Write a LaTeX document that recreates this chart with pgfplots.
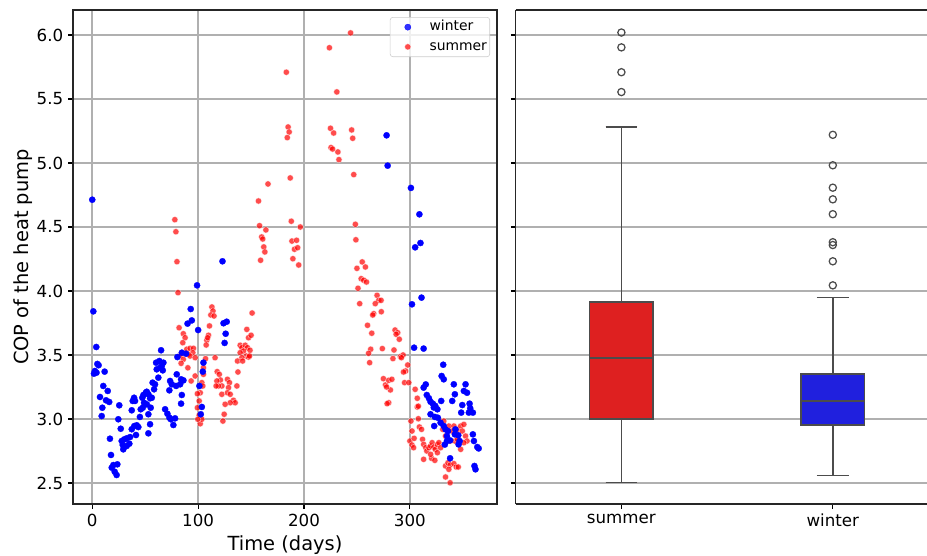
\documentclass[border=0pt]{standalone}
\usepackage{pgfplots}
\pgfplotsset{compat=1.18}
\usepgfplotslibrary{statistics}
\usepackage{fontspec}
\setmainfont{DejaVu Sans}
\definecolor{gridc}{HTML}{B0B0B0}
\definecolor{boxline}{HTML}{4C4C4C}
\definecolor{sumfill}{HTML}{DE2020}
\definecolor{winfill}{HTML}{2020DE}
\begin{document}
\begin{tikzpicture}
\useasboundingbox (0,0) rectangle (667.44pt,399.6pt);
\begin{axis}[
  at={(52.56pt,36.72pt)}, anchor=south west,
  width=305.28pt, height=355.68pt, scale only axis,
  xmin=-18.2, xmax=382.3, ymin=2.336, ymax=6.195,
  xtick={0,100,200,300},
  ytick={2.5,3,3.5,4,4.5,5,5.5,6},
  /pgf/number format/assume math mode=true,
  yticklabel style={/pgf/number format/fixed,/pgf/number format/fixed zerofill,/pgf/number format/precision=1},
  tick label style={font=\fontsize{12}{14}\selectfont},
  tick align=outside, major tick length=3.5pt,
  tick style={black, line width=0.8pt},
  xtick pos=left, ytick pos=left,
  axis line style={black!85, line width=1pt},
  grid=major, major grid style={gridc, line width=1.2pt},
  xlabel={Time (days)}, ylabel={COP of the heat pump},
  label style={font=\fontsize{14}{16}\selectfont},
  ylabel shift=-3.5pt,
  reverse legend,
  legend cell align=left,
  legend style={at={(rel axis cs:0.9835,0.9858)}, anchor=north east,
    draw=black!20, fill=white, fill opacity=0.8, text opacity=1,
    rounded corners=2pt, inner xsep=0pt, inner ysep=0pt, row sep=0pt,
    font=\fontsize{10}{12}\selectfont,
    nodes={text height=7.6pt, text depth=2.6pt}},
  legend image code/.code={\path (-12.5pt,0pt) (13.5pt,0pt); \draw[#1] plot coordinates {(0pt,0pt)};},
]
% summer
\addplot[only marks, mark=*, mark size=2.25pt, mark options={fill=red, draw=white, line width=0.3pt}, opacity=0.7] coordinates {
(78,4.557)(79,4.463)(80,4.229)(81,3.987)(183.3,5.709)(185,5.281)(186,5.242)(184.2,5.198)(187,4.883)(166,4.836)
(157,4.703)(188,4.545)(158,4.51)(164,4.477)(160,4.422)(161,4.406)(162,4.344)(163,4.305)(159,4.24)(188.6,4.39)
(193,4.396)(191,4.326)(194,4.338)(189.5,4.252)(195,4.203)(196.5,4.5)(244,6.016)(224,5.90)(231,5.555)(225,5.271)
(228,5.234)(245,5.258)(246,5.193)(225.5,5.12)(227,5.109)(232,5.086)(233,5.026)(247,4.909)(248.5,4.521)(249,4.40)
(255,4.227)(258,4.1875)(250,4.177)(254,4.096)(256.4,4.084)(259,4.07)(251,4.021)(252.6,3.901)(269,3.966)(270.6,3.927)
(272.8,3.927)(267.3,3.901)(265.8,3.823)(264.9,3.8125)(273,3.838)(260,3.732)(264,3.67)(286,3.695)(288.5,3.674)(287,3.662)
(290,3.623)(263,3.545)(261,3.513)(262,3.44)(274,3.55)(285,3.539)(284,3.472)(291,3.487)(293.6,3.50)(292,3.479)
(298,3.422)(296,3.375)(294,3.367)(275,3.315)(277,3.266)(280,3.302)(283,3.31)(281.6,3.227)(278,3.25)(295,3.284)
(299,3.284)(305,3.232)(307,3.162)(307,3.094)(280,3.127)(278.5,3.12)(308,3.10)(301,2.984)(302,2.906)(300,2.828)
(302,2.797)(303.5,2.776)(308,3.002)(309,2.9375)(311,2.919)(304,2.849)(312,2.841)(313,2.802)(315,2.776)(316,2.75)
(318,2.776)(319.6,2.789)(321,2.815)(322.6,2.781)(324,2.763)(326,2.80)(327.4,2.815)(329,2.776)(313,2.685)(320.5,2.693)
(323.6,2.677)(319.6,2.724)(326,2.737)(332,2.984)(331,2.919)(333.7,2.867)(336.8,2.945)(341.6,2.945)(344.8,2.919)(348,2.945)
(351,2.958)(349.5,2.906)(352.6,2.867)(354,2.828)(351,2.815)(346.2,2.80)(348,2.763)(342.5,2.828)(344.8,2.841)(338,2.828)
(340,2.906)(343,2.88)(333.7,2.633)(336,2.658)(338,2.64)(341.6,2.651)(343.8,2.625)(345.7,2.625)(336.8,2.607)(333.7,2.547)
(338,2.502)
(113,3.875)(114,3.844)(112,3.8125)(115,3.805)(110.7,3.727)(109.8,3.654)(108.2,3.615)(107.6,3.578)(109,3.635)(151,3.828)
(82,3.713)(86,3.666)(87.7,3.635)(85.5,3.596)(89.3,3.545)(92.4,3.552)(95.6,3.552)(95,3.518)(90.8,3.505)(84.6,3.51)
(83,3.492)(86,3.466)(92.4,3.492)(97.2,3.479)(90.3,3.40)(83.9,3.435)(97.2,3.336)(93.4,3.297)(107,3.471)(116,3.479)
(118,3.37)(120,3.349)(121,3.305)(117.7,3.297)(122.4,3.258)(119.2,3.258)(117,3.258)(105,3.349)(103.5,3.284)(104.4,3.258)
(102,3.205)(99.3,3.1975)(101,3.141)(99.3,3.088)(101,3.029)(102,2.963)(127.7,3.31)(129.6,3.284)(128.7,3.245)(136.6,3.258)
(137.6,3.367)(122.4,3.193)(127.7,3.205)(130.3,3.193)(133.4,3.146)(135,3.127)(130.3,3.127)(125.5,3.115)(124.6,3.037)(123.4,2.984)
(139.7,3.576)(141.3,3.557)(144.5,3.576)(146.6,3.557)(149,3.537)(142.9,3.531)(139.7,3.518)(145.4,3.492)(147.6,3.484)(141.3,3.479)
(137.2,3.453)(142,3.453)(148.5,3.492)(146,3.70)(147.6,3.635)(150,3.654)(105,3.40)(103.5,2.998)(99.7,2.998)
};
\addlegendentry{summer}
% winter
\addplot[only marks, mark=*, mark size=2.25pt, mark options={fill=blue, draw=blue, line width=0.2pt}] coordinates {
(0,4.713)(1,3.841)(99,4.044)(93,3.859)(94,3.77)(90,3.745)(100,3.695)(123,4.232)(278,5.216)(279,4.979)
(301,4.805)(309,4.599)(305,4.341)(310,4.375)(302,3.896)(311,3.948)(304,3.557)(313,3.55)(331.5,3.424)(330,3.336)
(332,3.31)(341.5,3.271)(315,3.27)(313,3.245)(352.6,3.271)(351,3.219)(354,3.205)(316,3.1875)(318,3.162)(319.5,3.135)
(321.7,3.12)(342.5,3.193)(329.6,3.141)(340,3.141)(324,3.102)(326,3.076)(322.6,3.09)(349.5,3.109)(356.4,3.12)(357,3.084)
(359.5,3.05)(348.5,3.05)(355.7,3.05)(319.5,3.037)(323.6,3.016)(326.4,3.01)(329,2.971)(332,2.945)(323,2.945)(333.7,2.919)
(336,2.906)(343,2.919)(345.7,2.873)(342.5,2.88)(335,2.867)(338,2.833)(335,2.828)(347,2.828)(346,2.802)(359.5,2.88)
(360.5,2.828)(363.7,2.781)(365,2.77)(333,2.80)(338,2.693)(361,2.633)(362,2.607)
(3.8,3.5625)(4.8,3.43)(6,3.42)(2.5,3.375)(4,3.362)(1.6,3.354)(11.7,3.37)(10.4,3.258)(14.6,3.219)(7.3,3.172)
(13,3.146)(16,3.133)(9.5,3.088)(8.9,3.023)(25.5,3.107)(24.6,2.998)(26.9,2.924)(16.7,2.846)(17.7,2.719)(18.4,2.62)
(19.9,2.64)(21.2,2.588)(23,2.5625)(23.7,2.646)(27.8,2.828)(30.3,2.841)(32.5,2.849)(35.7,2.859)(28.8,2.797)(32.5,2.789)
(35,2.807)(29.3,2.763)(37.3,2.92)(39.7,2.945)(42,2.951)(43.5,2.937)(41.3,2.875)(37.3,3.068)(40.4,3.141)(39.5,3.166)
(38.2,3.141)(45,3.016)(45.8,3.076)(47.7,3.088)(48.9,3.127)(47.3,3.166)(48.3,3.1875)(50.5,3.205)(51.5,3.213)(53,3.193)
(54.6,3.162)(56.2,3.166)(53,3.037)(54.6,2.959)(53,2.888)(51.5,3.115)(55.2,3.088)(57,3.284)(59.3,3.271)(58.4,3.232)
(62.4,3.323)(60.9,3.388)(64,3.40)(60.3,3.44)(63.4,3.453)(67.2,3.44)(65.7,3.414)(66.6,3.38)(65,3.537)(68.8,3.076)
(71,3.041)(72.9,3.01)(74.2,2.998)(78.2,3.005)(76.6,2.953)(73.5,3.297)(75.1,3.271)(72.8,3.224)(79.2,3.258)(79.8,3.349)
(83.9,3.31)(83,3.271)(84.6,3.1875)(83.9,3.12)(86.1,3.302)(80.4,3.484)(84.6,3.518)(88.6,3.51)(105,3.44)(104.4,3.37)
(101.2,3.258)(103.5,3.094)(102.5,3.037)(124,3.748)(127,3.76)(126,3.666)(125,3.594)
};
\addlegendentry{winter}
\end{axis}
\begin{axis}[
  at={(371.3pt,36.72pt)}, anchor=south west,
  width=296.14pt, height=355.68pt, scale only axis,
  xmin=-0.5, xmax=1.4455, ymin=2.336, ymax=6.195,
  xtick={0,1}, xticklabels={summer,winter},
  ytick={2.5,3,3.5,4,4.5,5,5.5,6}, yticklabels={},
  tick label style={font=\fontsize{12}{14}\selectfont},
  tick align=outside, major tick length=3.5pt,
  tick style={black, line width=0.8pt},
  axis x line*=box, axis y line*=left,
  xtick pos=left, ytick pos=left,
  axis line style={black!85, line width=1pt},
  ymajorgrids, major grid style={gridc, line width=0.8pt},
  boxplot/draw direction=y,
]
\addplot[boxplot prepared={draw position=0, lower whisker=2.505, lower quartile=3.0, median=3.476, upper quartile=3.916, upper whisker=5.283, box extend=0.3, whisker extend=0.15},
  draw=boxline, fill=sumfill, line width=1.1pt, mark=o, mark size=2.6pt, mark options={draw=boxline, fill=none, line width=0.9pt}]
  table[row sep=\\, y index=0, header=false] {6.019\\ 5.903\\ 5.709\\ 5.554\\};
\addplot[boxplot prepared={draw position=1, lower whisker=2.558, lower quartile=2.954, median=3.142, upper quartile=3.352, upper whisker=3.950, box extend=0.3, whisker extend=0.15},
  draw=boxline, fill=winfill, line width=1.1pt, mark=o, mark size=2.6pt, mark options={draw=boxline, fill=none, line width=0.9pt}]
  table[row sep=\\, y index=0, header=false] {5.220\\ 4.982\\ 4.807\\ 4.716\\ 4.600\\ 4.381\\ 4.359\\ 4.232\\ 4.044\\};
\end{axis}
\end{tikzpicture}
\end{document}
